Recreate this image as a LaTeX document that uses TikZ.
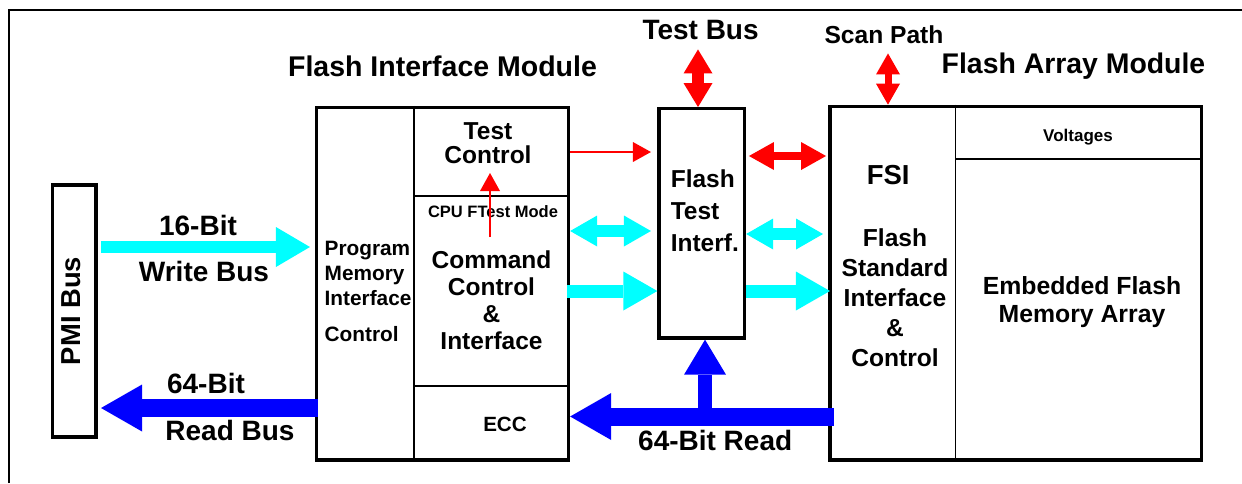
\documentclass[tikz,border=0pt]{standalone}
\usepackage{fontspec}
\setmainfont{Liberation Sans}
\usetikzlibrary{arrows.meta}

% bus colours
\definecolor{busCyan}{RGB}{0,255,255}
\definecolor{busBlue}{RGB}{0,0,255}
\definecolor{busRed}{RGB}{255,0,0}

% bold sans text at a given size and line spacing
\newcommand\txtsize[2]{\bfseries\fontsize{#1}{#2}\selectfont}

\begin{document}
\begin{tikzpicture}[x=1pt,y=-1pt,
  frameline/.style={line width=2pt},
  blockbox/.style={draw, line width=3.3pt, inner sep=0pt, anchor=north west},
  divider/.style={line width=1.6pt},
  txt/.style={inner sep=0pt},
  cyanW/.style={busCyan, line width=12pt, -{Triangle[length=34pt,width=40pt,line width=0pt]}},
  cyanR/.style={busCyan, line width=13pt, -{Triangle[length=34pt,width=39pt,line width=0pt]}},
  cyanD/.style={busCyan, line width=12pt, {Triangle[length=27pt,width=31pt,line width=0pt]}-{Triangle[length=27pt,width=31pt,line width=0pt]}},
  blueL/.style={busBlue, line width=18pt, -{Triangle[length=41pt,width=47pt,line width=0pt]}},
  blueU/.style={busBlue, line width=14pt, -{Triangle[length=35pt,width=42pt,line width=0pt]}},
  redD/.style={busRed, line width=8pt, {Triangle[length=25pt,width=28pt,line width=0pt]}-{Triangle[length=25pt,width=28pt,line width=0pt]}},
  redTB/.style={busRed, line width=12pt, {Triangle[length=24pt,width=29pt,line width=0pt]}-{Triangle[length=24pt,width=29pt,line width=0pt]}},
  redSP/.style={busRed, line width=7pt, {Triangle[length=21pt,width=24pt,line width=0pt]}-{Triangle[length=21pt,width=24pt,line width=0pt]}},
  redT/.style={busRed, line width=2pt, -{Triangle[length=18pt,width=20pt,line width=0pt]}}
]
\fill[white] (0,0) rectangle (1242,483);
\useasboundingbox (0,0) rectangle (1242,483);

% outer frame
\draw[frameline] (9.3,483) -- (9.3,10) -- (1242,10);

% blocks
\node[blockbox, minimum width=43.5pt, minimum height=252pt] (pmi) at (50.85,183.35) {};
\node[blockbox, minimum width=252pt, minimum height=352.5pt] (fim) at (314.85,105.85) {};
\node[blockbox, minimum width=85.5pt, minimum height=229.3pt] (fti) at (657.35,107.05) {};
\node[blockbox, minimum width=371.5pt, minimum height=353.7pt] (fam) at (828.35,104.65) {};

% internal partitions
\draw[divider] (413.7,0 |- fim.north) -- (413.7,0 |- fim.south);
\draw[divider] (413.7,196) -- (fim.east |- 0,196);
\draw[divider] (413.7,386) -- (fim.east |- 0,386);
\draw[divider] (955.3,0 |- fam.north) -- (955.3,0 |- fam.south);
\draw[divider] (955.3,158.7) -- (fam.east |- 0,158.7);

% titles and labels
\node[txt, anchor=base, font=\txtsize{28.5}{30}] (fimtitle) at (442.5,76) {Flash Interface Module};
\node[txt, anchor=base, font=\txtsize{28}{30}] (testbus) at (700.6,39) {Test Bus};
\node[txt, anchor=base, font=\txtsize{24.6}{26}] (scanpath) at (884,43) {Scan Path};
\node[txt, anchor=base, font=\txtsize{28.4}{30}] (famtitle) at (1073.5,73.3) {Flash Array Module};
\node[txt, anchor=base, font=\txtsize{28}{30}] (w16) at (198,235) {16-Bit};
\node[txt, anchor=base, font=\txtsize{28}{30}] (wbus) at (204,281) {Write Bus};
\node[txt, anchor=base, font=\txtsize{28}{30}] (r64) at (206,393) {64-Bit};
\node[txt, anchor=base, font=\txtsize{28}{30}] (rbus) at (230,440.7) {Read Bus};
\node[txt, anchor=base, rotate=90, font=\txtsize{27.4}{30}] (pmilabel) at (80.7,311) {PMI Bus};

\node[txt, anchor=north west, align=left, font=\txtsize{20.8}{25.2}] (pmic) at (324.5,240.8) {Program\\Memory\\Interface\\[10.5pt]Control};
\node[txt, anchor=north, align=center, font=\txtsize{24.5}{24}] (testctl) at (488,122.5) {Test\\Control};
\node[txt, anchor=base, font=\txtsize{16.5}{18}] (cpumode) at (493,217.7) {CPU FTest Mode};
\node[txt, anchor=north, align=center, font=\txtsize{24.5}{26.9}] (cmd) at (491.5,250.8) {Command\\Control\\\&\\Interface};
\node[txt, anchor=base, font=\txtsize{20.6}{22}] (ecc) at (505,431.7) {ECC};

\node[txt, anchor=north west, align=left, font=\txtsize{24.5}{31.7}] (ftitext) at (670.6,169.8) {Flash\\Test\\Interf.};

\node[txt, anchor=base, font=\txtsize{17}{19}] (volt) at (1078,141) {Voltages};
\node[txt, anchor=base, font=\txtsize{27.5}{30}] (fsi) at (888.2,184.3) {FSI};
\node[txt, anchor=north, align=center, font=\txtsize{24.6}{29.9}] (fsic) at (895,228.4) {Flash\\Standard\\Interface\\\&\\Control};
\node[txt, anchor=north, align=center, font=\txtsize{24.8}{27.7}] (efma) at (1082,276.2) {Embedded Flash\\Memory Array};
\node[txt, anchor=base, font=\txtsize{28}{30}] (rd64) at (715.2,450.7) {64-Bit Read};

% PMI buses
\draw[cyanW, shorten <=3.4pt, shorten >=4.9pt] (pmi.east |- 0,247) -- (fim.west |- 0,247);
\draw[blueL, shorten <=-3.2pt, shorten >=3.4pt] (fim.west |- 0,408) -- (pmi.east |- 0,408);

% test control paths
\draw[redT, shorten <=13.8pt, shorten >=9pt] (cmd.north -| 490,0) -- (testctl.south -| 490,0);
\draw[redT, shorten >=6.4pt] (fim.east |- 0,152) -- (fti.west |- 0,152);

% interface module to flash test interface
\draw[cyanD, shorten >=6.4pt] (fim.east |- 0,231) -- (fti.west |- 0,231);
\draw[cyanR, shorten <=-3.2pt] (fim.east |- 0,291) -- (fti.west |- 0,291);

% flash test interface to array module
\draw[redD, shorten <=2.8pt, shorten >=2.3pt] (fti.east |- 0,156) -- (fam.west |- 0,156);
\draw[cyanD, shorten >=5.3pt] (fti.east |- 0,234) -- (fam.west |- 0,234);
\draw[cyanR, shorten >=-1.6pt] (fti.east |- 0,291) -- (fam.west |- 0,291);

% external test access
\draw[redTB, shorten <=10pt] (testbus.south -| 698,0) -- (fti.north -| 698,0);
\draw[redSP, shorten <=10pt] (scanpath.south -| 888,0) -- (fam.north -| 888,0);

% 64-bit read bus
\draw[blueL, shorten <=-5.2pt] (fam.west |- 0,416.5) -- (fim.east |- 0,416.5);
\coordinate (tap) at (705,416.5);
\draw[blueU] (tap) -- (tap |- fti.south);
\end{tikzpicture}
\end{document}
